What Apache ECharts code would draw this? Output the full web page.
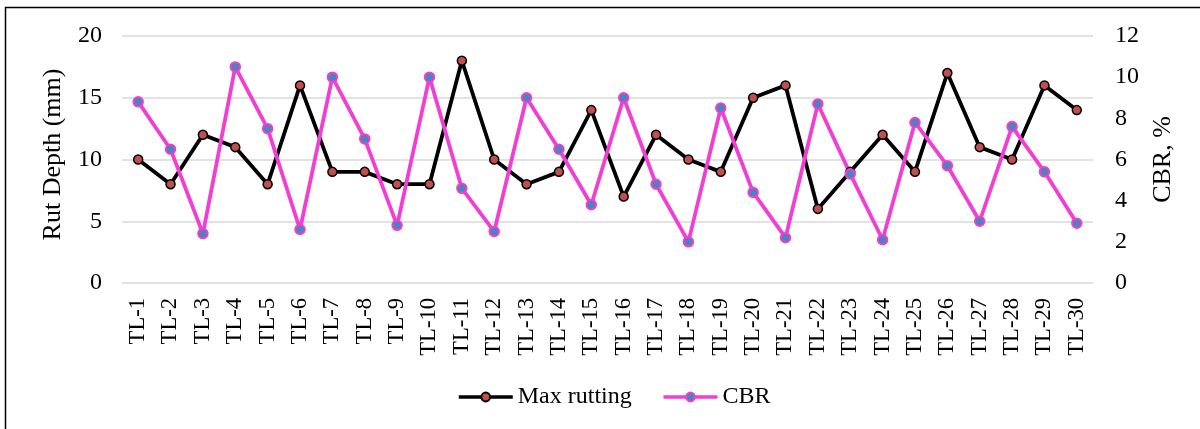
<!DOCTYPE html>
<html>
<head>
<meta charset="utf-8">
<script src="https://cdn.jsdelivr.net/npm/echarts@6/dist/echarts.min.js"></script>
<style>
html,body{margin:0;padding:0;background:#fff;}
#chart{width:1200px;height:429px;}
</style>
</head>
<body>
<div id="chart"></div>
<script>
const categories = ['TL-1','TL-2','TL-3','TL-4','TL-5','TL-6','TL-7','TL-8','TL-9','TL-10',
  'TL-11','TL-12','TL-13','TL-14','TL-15','TL-16','TL-17','TL-18','TL-19','TL-20',
  'TL-21','TL-22','TL-23','TL-24','TL-25','TL-26','TL-27','TL-28','TL-29','TL-30'];
const maxRutting = [10,8,12,11,8,16,9,9,8,8,18,10,8,9,14,7,12,10,9,15,16,6,9,12,9,17,11,10,16,14];
const cbr = [8.8,6.5,2.4,10.5,7.5,2.6,10.0,7.0,2.8,10.0,4.6,2.5,9.0,6.5,3.8,9.0,4.8,2.0,8.5,4.4,2.2,8.7,5.3,2.1,7.8,5.7,3.0,7.6,5.4,2.9];
const leftTicks = [0,20,5];
const rightTicks = [0,12,2];

const FONT = "'Liberation Serif','Times New Roman',serif";
const chart = echarts.init(document.getElementById('chart'));
chart.setOption({
  backgroundColor: '#fff',
  animation: false,
  textStyle: {fontFamily: FONT, color: '#000'},
  graphic: [{
    type: 'polyline', silent: true,
    shape: {points: [[5.5, 440], [5.5, 7.5], [1210, 7.5]]},
    style: {fill: 'none', stroke: '#000', lineWidth: 1.5}
  }],
  grid: {left: 122, right: 107, top: 36, bottom: 146},
  legend: {
    left: 457, top: 385, padding: 0, itemWidth: 54, itemHeight: 11, itemGap: 30,
    lineStyle: {width: 3.5},
    textStyle: {fontFamily: FONT, fontSize: 24, color: '#000', lineHeight: 24},
    data: ['Max rutting', 'CBR']
  },
  xAxis: {
    type: 'category', data: categories, boundaryGap: true,
    axisLine: {show: false}, axisTick: {show: false},
    axisLabel: {rotate: 90, margin: 15, fontSize: 22.6, fontFamily: FONT, color: '#000', interval: 0}
  },
  yAxis: [{
    type: 'value', min: leftTicks[0], max: leftTicks[1], interval: leftTicks[2],
    name: 'Rut Depth (mm)', nameLocation: 'middle', nameGap: 56,
    nameTextStyle: {fontSize: 26, fontFamily: FONT, color: '#000', padding: [0, 0, 0, 10]},
    axisLine: {show: false}, axisTick: {show: false},
    axisLabel: {margin: 20, fontSize: 24, fontFamily: FONT, color: '#000'},
    splitLine: {lineStyle: {color: '#D9D9D9', width: 1.5}}
  }, {
    type: 'value', min: rightTicks[0], max: rightTicks[1], interval: rightTicks[2],
    name: 'CBR, %', nameLocation: 'middle', nameGap: 57,
    nameTextStyle: {fontSize: 26, fontFamily: FONT, color: '#000'},
    axisLine: {show: false}, axisTick: {show: false},
    axisLabel: {margin: 22, fontSize: 24, fontFamily: FONT, color: '#000'},
    splitLine: {show: false}
  }],
  series: [{
    name: 'Max rutting', type: 'line', yAxisIndex: 0, data: maxRutting,
    symbol: 'circle', symbolSize: 9,
    lineStyle: {color: '#000', width: 3.8},
    itemStyle: {color: '#C0504D', borderColor: '#000', borderWidth: 1.5}
  }, {
    name: 'CBR', type: 'line', yAxisIndex: 1, data: cbr,
    symbol: 'circle', symbolSize: 9.5,
    lineStyle: {color: '#F03FD2', width: 3.8},
    itemStyle: {color: '#4F81BD', borderColor: '#F03FD2', borderWidth: 2}
  }]
});
</script>
</body>
</html>
